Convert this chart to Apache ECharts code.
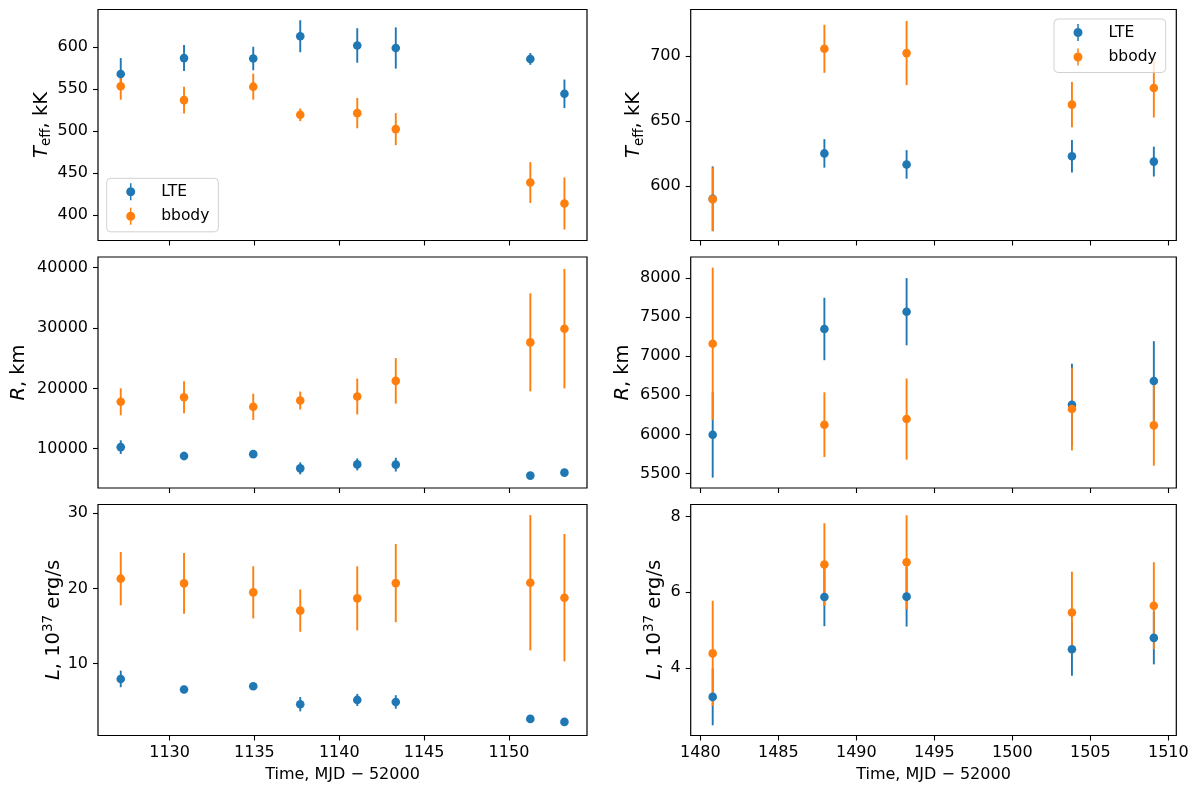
<!DOCTYPE html>
<html>
<head>
<meta charset="utf-8">
<script src="https://cdn.jsdelivr.net/npm/echarts@6/dist/echarts.min.js"></script>
<style>
  html, body { margin: 0; padding: 0; background: #fff; }
  #chart { width: 1200px; height: 796px; }
</style>
</head>
<body>
<div id="chart"></div>
<script>
// ---------------- data ----------------
const timeA = [1127.12, 1130.85, 1134.93, 1137.70, 1141.06, 1143.33, 1151.26, 1153.27];
const timeB = [1480.79, 1487.95, 1493.22, 1503.82, 1509.07];

const teffLteA    = [568, 587, 586.5, 613, 602, 599, 586, 544.5];
const teffLteErrA = [19, 15.5, 14, 19, 20.5, 24.5, 7, 17];
const teffBbA     = [553.5, 537, 553, 519.5, 521.5, 502.5, 439, 414];
const teffBbErrA  = [16, 16, 15.5, 7.5, 18, 19, 24.3, 31];

const rLteA    = [10260, 8780, 9100, 6740, 7400, 7360, 5540, 6030];
const rLteErrA = [1130, 700, 500, 1000, 1000, 1150, 300, 300];
const rBbA     = [17770, 18530, 16940, 17980, 18650, 21240, 27620, 29890];
const rBbErrA  = [2230, 2650, 2170, 1490, 2980, 3770, 8130, 9890];

const lLteA    = [7.96, 6.55, 6.99, 4.6, 5.17, 4.9, 2.65, 2.25];
const lLteErrA = [1.1, 0.5, 0.5, 0.95, 0.8, 0.9, 0.2, 0.2];
const lBbA     = [21.29, 20.66, 19.47, 17.04, 18.67, 20.7, 20.75, 18.76];
const lBbErrA  = [3.55, 4.05, 3.47, 2.81, 4.26, 5.2, 8.99, 8.47];

const teffLteB    = [590, 625, 616.5, 622.8, 618.7];
const teffLteErrB = [25, 11, 11, 12.5, 11.5];
const teffBbB     = [589.7, 705.6, 702.3, 662.6, 675.4];
const teffBbErrB  = [24.4, 18.5, 24.7, 17.5, 22.7];

const rLteB    = [5996, 7350, 7571, 6380, 6684];
const rLteErrB = [550, 400, 430, 525, 510];
const rBbB     = [7161, 6124, 6196, 6324, 6115];
const rBbErrB  = [975, 415, 520, 530, 517];

const lLteB    = [3.23, 5.87, 5.88, 4.49, 4.79];
const lLteErrB = [0.75, 0.77, 0.79, 0.7, 0.7];
const lBbB     = [4.38, 6.73, 6.79, 5.46, 5.64];
const lBbErrB  = [1.39, 1.09, 1.24, 1.08, 1.15];

const xTicksA = [1130, 1135, 1140, 1145, 1150];
const xTicksB = [1480, 1485, 1490, 1495, 1500, 1505, 1510];
const yTicksTeffA = [400, 450, 500, 550, 600];
const yTicksTeffB = [600, 650, 700];
const yTicksRA = [10000, 20000, 30000, 40000];
const yTicksRB = [5500, 6000, 6500, 7000, 7500, 8000];
const yTicksLA = [10, 20, 30];
const yTicksLB = [4, 6, 8];

const seriesNames = ['LTE', 'bbody'];
const xLabel = 'Time, MJD \u2212 52000';

// ---------------- styling ----------------
const FONT = 'DejaVu Sans';
const C_LTE = '#1f77b4', C_BB = '#ff7f0e';
const TICK_FS = 16, LABEL_FS = 19.5;

const nameRich = {
  it:  { fontFamily: FONT, fontSize: LABEL_FS, fontStyle: 'italic', color: '#000', lineHeight: 24 },
  n:   { fontFamily: FONT, fontSize: LABEL_FS, color: '#000', lineHeight: 24 },
  sub: { fontFamily: FONT, fontSize: 13.5, color: '#000', verticalAlign: 'bottom' },
  sup: { fontFamily: FONT, fontSize: 13.5, color: '#000', verticalAlign: 'top' }
};
const NAME_TEFF = '{it|T}{sub|eff}{n|, kK}';
const NAME_R = '{it|R}{n|, km}';
const NAME_L = '{it|L}{n|, 10}{sup|37}{n| erg/s}';

const colL = { left: 98, width: 489 };
const colR = { left: 690.7, width: 485.6 };
const rowTops = [9.5, 257, 504.5];
const ROW_H = 231;

const panels = [
  { col: colL, row: 0, xr: [1125.78, 1154.6], xt: xTicksA, yr: [370.0, 644.8], yt: yTicksTeffA, name: NAME_TEFF, gap: 44, t: timeA,
    lte: [teffLteA, teffLteErrA], bb: [teffBbA, teffBbErrA] },
  { col: colR, row: 0, xr: [1479.38, 1510.51], xt: xTicksB, yr: [557.9, 735.9], yt: yTicksTeffB, name: NAME_TEFF, gap: 44, t: timeB,
    lte: [teffLteB, teffLteErrB], bb: [teffBbB, teffBbErrB] },
  { col: colL, row: 1, xr: [1125.78, 1154.6], xt: xTicksA, yr: [3487, 41769], yt: yTicksRA, name: NAME_R, gap: 67, t: timeA,
    lte: [rLteA, rLteErrA], bb: [rBbA, rBbErrA] },
  { col: colR, row: 1, xr: [1479.38, 1510.51], xt: xTicksB, yr: [5313, 8272], yt: yTicksRB, name: NAME_R, gap: 56, t: timeB,
    lte: [rLteB, rLteErrB], bb: [rBbB, rBbErrB] },
  { col: colL, row: 2, xr: [1125.78, 1154.6], xt: xTicksA, yr: [0.44, 31.15], yt: yTicksLA, name: NAME_L, gap: 31, t: timeA,
    lte: [lLteA, lLteErrA], bb: [lBbA, lBbErrA] },
  { col: colR, row: 2, xr: [1479.38, 1510.51], xt: xTicksB, yr: [2.21, 8.316], yt: yTicksLB, name: NAME_L, gap: 24, t: timeB,
    lte: [lLteB, lLteErrB], bb: [lBbB, lBbErrB] }
];

function errRender(params, api) {
  const x = api.value(0), lo = api.value(1), hi = api.value(2);
  const p1 = api.coord([x, lo]);
  const p2 = api.coord([x, hi]);
  return {
    type: 'line',
    shape: { x1: p1[0], y1: p1[1], x2: p2[0], y2: p2[1] },
    style: { stroke: api.visual('color'), lineWidth: 1.9 }
  };
}

const grid = [], xAxis = [], yAxis = [], series = [];
panels.forEach((p, i) => {
  grid.push({ left: p.col.left, width: p.col.width, top: rowTops[p.row], height: ROW_H,
    show: true, borderColor: '#000', borderWidth: 1.2, backgroundColor: 'transparent' });
  const bottomRow = p.row === 2;
  xAxis.push({
    type: 'value', gridIndex: i, min: p.xr[0], max: p.xr[1],
    axisLine: { show: false },
    splitLine: { show: false },
    axisTick: { show: true, inside: false, length: 5, customValues: p.xt, lineStyle: { color: '#000', width: 1.1 } },
    axisLabel: { show: bottomRow, customValues: p.xt, margin: 9, fontFamily: FONT, fontSize: TICK_FS, color: '#000',
      formatter: v => String(v) },
    name: bottomRow ? xLabel : '', nameLocation: 'middle', nameGap: 31,
    nameTextStyle: { fontFamily: FONT, fontSize: 16, color: '#000' }
  });
  yAxis.push({
    type: 'value', gridIndex: i, min: p.yr[0], max: p.yr[1],
    axisLine: { show: false },
    splitLine: { show: false },
    axisTick: { show: true, inside: false, length: 5, customValues: p.yt, lineStyle: { color: '#000', width: 1.1 } },
    axisLabel: { customValues: p.yt, margin: 10, fontFamily: FONT, fontSize: TICK_FS, color: '#000',
      formatter: v => String(v) },
    name: p.name, nameLocation: 'middle', nameRotate: 90, nameGap: p.gap,
    nameTextStyle: { fontFamily: FONT, fontSize: LABEL_FS, color: '#000', rich: nameRich }
  });
  [[p.lte, C_LTE, seriesNames[0]], [p.bb, C_BB, seriesNames[1]]].forEach(([d, color, nm]) => {
    const vals = d[0], errs = d[1];
    series.push({
      type: 'custom', name: nm, xAxisIndex: i, yAxisIndex: i,
      renderItem: errRender, itemStyle: { color: color },
      encode: { x: 0, y: [1, 2] },
      data: p.t.map((t, k) => [t, vals[k] - errs[k], vals[k] + errs[k]]),
      silent: true, animation: false
    });
    series.push({
      type: 'scatter', name: nm, xAxisIndex: i, yAxisIndex: i,
      symbol: 'circle', symbolSize: 8.6, itemStyle: { color: color, opacity: 1 },
      data: p.t.map((t, k) => [t, vals[k]]),
      silent: true, animation: false
    });
  });
});

const ICON = 'path://M4.25,0 L5.75,0 L5.75,17 L4.25,17 Z M0.5,8.5 A4.5,4.5 0 1 1 9.5,8.5 A4.5,4.5 0 1 1 0.5,8.5 Z';
function makeLegend(left, top) {
  return {
    left: left, top: top, orient: 'vertical',
    itemWidth: 9, itemHeight: 17, itemGap: 7.5,
    padding: [5, 9, 7, 19.5],
    backgroundColor: 'rgba(255,255,255,0.8)',
    borderColor: 'rgba(204,204,204,0.9)', borderWidth: 1, borderRadius: 4,
    textStyle: { fontFamily: FONT, fontSize: 15.5, color: '#000', padding: [0, 0, 0, 21] },
    selectedMode: false,
    data: [
      { name: seriesNames[0], icon: ICON, itemStyle: { color: C_LTE } },
      { name: seriesNames[1], icon: ICON, itemStyle: { color: C_BB } }
    ]
  };
}

const chart = echarts.init(document.getElementById('chart'), null, { renderer: 'canvas' });
chart.setOption({
  animation: false,
  backgroundColor: '#fff',
  grid: grid,
  xAxis: xAxis,
  yAxis: yAxis,
  legend: [makeLegend(106.7, 178.3), makeLegend(1054, 19)],
  series: series
});
</script>
</body>
</html>
